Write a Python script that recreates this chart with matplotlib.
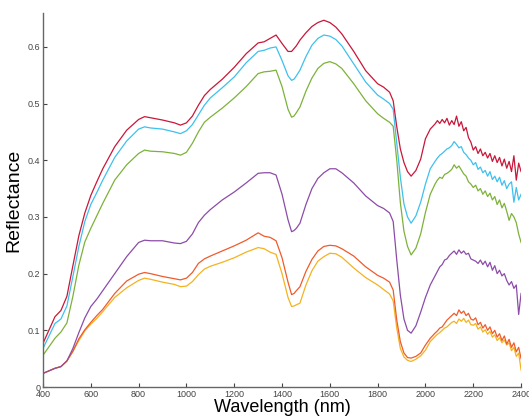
import matplotlib
matplotlib.use("Agg")
import matplotlib.pyplot as plt

plt.rcParams["font.family"] = ["Liberation Sans", "DejaVu Sans"]

WAVELENGTH = [
    400, 450, 475, 500, 525, 550, 575, 600, 625, 650, 700, 750, 800, 825, 850, 900,
    950, 975, 1000, 1025, 1050, 1075, 1100, 1150, 1200, 1250, 1300, 1325, 1350, 1375,
    1400, 1425, 1440, 1450, 1460, 1475, 1500, 1525, 1550, 1575, 1600, 1625, 1650, 1700, 1750, 1800,
    1825, 1850, 1865, 1880, 1895, 1910, 1925, 1940, 1960, 1980, 2000, 2020, 2040,
    2050, 2060, 2070, 2080, 2090, 2100, 2110, 2120, 2130, 2140, 2150, 2160, 2170, 2180,
    2190, 2200, 2210, 2220, 2230, 2240, 2250, 2260, 2270, 2280, 2290, 2300, 2310, 2320,
    2330, 2340, 2350, 2360, 2370, 2380, 2390, 2400,
]

red = [
    0.077, 0.124, 0.135, 0.160, 0.214, 0.267, 0.307, 0.338, 0.362, 0.385, 0.424, 0.453, 0.472, 0.477, 0.475, 0.471,
    0.466, 0.462, 0.466, 0.478, 0.497, 0.514, 0.525, 0.543, 0.564, 0.588, 0.607, 0.609, 0.615, 0.621,
    0.606, 0.592, 0.592, 0.597, 0.602, 0.612, 0.625, 0.636, 0.643, 0.647, 0.643, 0.635, 0.623, 0.592, 0.558, 0.535,
    0.529, 0.520, 0.505, 0.459, 0.420, 0.396, 0.380, 0.372, 0.382, 0.402, 0.438, 0.455, 0.464,
    0.470, 0.465, 0.472, 0.466, 0.474, 0.462, 0.470, 0.463, 0.478, 0.460, 0.468, 0.452, 0.458, 0.440,
    0.432, 0.418, 0.424, 0.412, 0.420, 0.408, 0.414, 0.404, 0.412, 0.398, 0.408, 0.396, 0.405, 0.390,
    0.402, 0.386, 0.398, 0.380, 0.408, 0.365, 0.395, 0.380,
]

cyan = [
    0.068, 0.112, 0.120, 0.143, 0.195, 0.248, 0.292, 0.322, 0.343, 0.365, 0.405, 0.434, 0.455, 0.459, 0.457, 0.455,
    0.450, 0.447, 0.452, 0.463, 0.480, 0.497, 0.510, 0.528, 0.547, 0.572, 0.592, 0.594, 0.598, 0.600,
    0.576, 0.549, 0.541, 0.543, 0.549, 0.559, 0.583, 0.603, 0.615, 0.621, 0.619, 0.613, 0.602, 0.570, 0.538, 0.515,
    0.508, 0.500, 0.490, 0.430, 0.370, 0.323, 0.300, 0.289, 0.302, 0.326, 0.358, 0.385, 0.398,
    0.404, 0.409, 0.412, 0.416, 0.420, 0.422, 0.426, 0.433, 0.428, 0.422, 0.424, 0.414, 0.410, 0.404,
    0.400, 0.392, 0.396, 0.384, 0.388, 0.378, 0.382, 0.372, 0.380, 0.366, 0.372, 0.362, 0.370, 0.356,
    0.364, 0.350, 0.358, 0.362, 0.326, 0.352, 0.330, 0.340,
]

green = [
    0.056, 0.086, 0.097, 0.113, 0.160, 0.215, 0.256, 0.280, 0.302, 0.324, 0.365, 0.392, 0.412, 0.418, 0.416, 0.415,
    0.412, 0.409, 0.414, 0.430, 0.450, 0.467, 0.476, 0.492, 0.510, 0.530, 0.553, 0.556, 0.557, 0.559,
    0.530, 0.490, 0.476, 0.478, 0.484, 0.494, 0.522, 0.545, 0.562, 0.571, 0.574, 0.570, 0.562, 0.535, 0.505, 0.482,
    0.474, 0.467, 0.460, 0.400, 0.325, 0.275, 0.248, 0.233, 0.245, 0.270, 0.308, 0.340, 0.358,
    0.365, 0.370, 0.368, 0.375, 0.377, 0.380, 0.384, 0.392, 0.386, 0.390, 0.383, 0.376, 0.372, 0.362,
    0.358, 0.352, 0.356, 0.346, 0.350, 0.340, 0.346, 0.336, 0.342, 0.330, 0.336, 0.322, 0.330, 0.316,
    0.324, 0.310, 0.294, 0.306, 0.300, 0.290, 0.270, 0.255,
]

purple = [
    0.024, 0.033, 0.036, 0.046, 0.068, 0.096, 0.122, 0.142, 0.155, 0.170, 0.200, 0.230, 0.255, 0.259, 0.258, 0.258,
    0.254, 0.253, 0.257, 0.270, 0.290, 0.303, 0.313, 0.330, 0.344, 0.360, 0.377, 0.378, 0.378, 0.374,
    0.340, 0.295, 0.274, 0.276, 0.280, 0.289, 0.322, 0.350, 0.368, 0.378, 0.385, 0.385, 0.378, 0.360, 0.337, 0.320,
    0.315, 0.307, 0.292, 0.224, 0.162, 0.120, 0.100, 0.095, 0.108, 0.132, 0.158, 0.180, 0.196,
    0.204, 0.212, 0.216, 0.224, 0.226, 0.232, 0.236, 0.240, 0.234, 0.242, 0.236, 0.240, 0.234, 0.236,
    0.226, 0.224, 0.222, 0.218, 0.224, 0.216, 0.222, 0.212, 0.220, 0.206, 0.214, 0.200, 0.206, 0.196,
    0.200, 0.188, 0.180, 0.186, 0.174, 0.180, 0.128, 0.165,
]

orange = [
    0.024, 0.033, 0.036, 0.046, 0.063, 0.085, 0.101, 0.114, 0.126, 0.137, 0.165, 0.187, 0.199, 0.202, 0.200, 0.195,
    0.191, 0.189, 0.192, 0.202, 0.218, 0.226, 0.231, 0.240, 0.249, 0.259, 0.272, 0.266, 0.264, 0.258,
    0.228, 0.185, 0.163, 0.165, 0.170, 0.177, 0.204, 0.225, 0.240, 0.248, 0.250, 0.249, 0.244, 0.231, 0.212, 0.197,
    0.192, 0.185, 0.171, 0.118, 0.080, 0.060, 0.052, 0.051, 0.054, 0.060, 0.074, 0.086, 0.095,
    0.099, 0.104, 0.106, 0.112, 0.118, 0.122, 0.126, 0.130, 0.126, 0.136, 0.130, 0.134, 0.126, 0.130,
    0.120, 0.118, 0.122, 0.110, 0.114, 0.104, 0.110, 0.100, 0.106, 0.094, 0.100, 0.088, 0.094, 0.082,
    0.090, 0.076, 0.084, 0.070, 0.078, 0.062, 0.070, 0.050,
]

yellow = [
    0.024, 0.033, 0.036, 0.046, 0.063, 0.082, 0.099, 0.111, 0.121, 0.133, 0.158, 0.175, 0.188, 0.192, 0.190, 0.185,
    0.181, 0.177, 0.178, 0.186, 0.198, 0.208, 0.213, 0.220, 0.228, 0.238, 0.246, 0.244, 0.238, 0.234,
    0.200, 0.158, 0.142, 0.143, 0.145, 0.148, 0.180, 0.205, 0.222, 0.230, 0.236, 0.235, 0.229, 0.210, 0.193, 0.180,
    0.172, 0.164, 0.152, 0.104, 0.068, 0.053, 0.047, 0.045, 0.049, 0.055, 0.065, 0.080, 0.089,
    0.093, 0.096, 0.100, 0.104, 0.106, 0.110, 0.114, 0.116, 0.112, 0.120, 0.116, 0.121, 0.114, 0.118,
    0.110, 0.109, 0.112, 0.102, 0.106, 0.097, 0.101, 0.093, 0.098, 0.088, 0.092, 0.082, 0.087, 0.078,
    0.083, 0.074, 0.078, 0.064, 0.070, 0.054, 0.060, 0.030,
]

SERIES = [
    (yellow, "#F5B21E"),
    (orange, "#EF5B2B"),
    (purple, "#8C4CA8"),
    (green, "#7DB23A"),
    (cyan, "#3EC0EE"),
    (red, "#C8173A"),
]

fig = plt.figure(figsize=(5.29, 4.16), dpi=100)
ax = fig.add_axes([0.0813, 0.0697, 0.9037, 0.8993])

for values, color in SERIES:
    ax.plot(WAVELENGTH, values, color=color, linewidth=0.9, solid_joinstyle="round")

ax.set_xlim(400, 2400)
ax.set_ylim(0, 0.66)
ax.set_xticks(range(400, 2401, 200))
ax.set_yticks([0, 0.1, 0.2, 0.3, 0.4, 0.5, 0.6])
ax.set_yticklabels(["0", "0.1", "0.2", "0.3", "0.4", "0.5", "0.6"])
ax.tick_params(direction="in", length=3, width=0.8, labelsize=6.5, colors="#444444", pad=2)
ax.spines[["top", "right"]].set_visible(False)
for side in ["left", "bottom"]:
    ax.spines[side].set_color("#666666")
    ax.spines[side].set_linewidth(1.0)

ax.set_xlabel("Wavelength (nm)", fontsize=13, labelpad=0)
ax.set_ylabel("Reflectance", fontsize=14, labelpad=4)

fig.savefig("out.png", dpi=100)
